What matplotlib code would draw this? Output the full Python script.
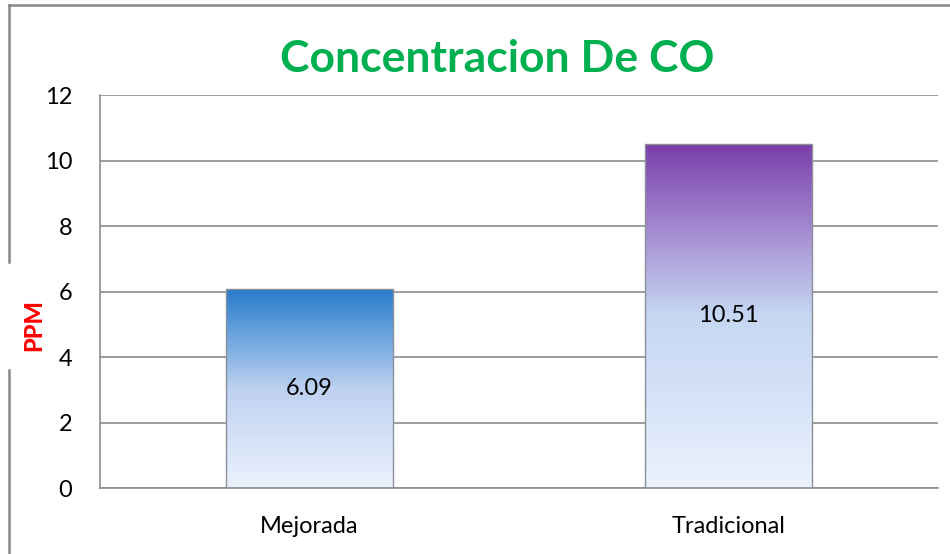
"""Bar chart: Concentracion De CO (PPM) for two stove types."""

import numpy as np
import matplotlib
matplotlib.use("Agg")
import matplotlib.pyplot as plt
from matplotlib.colors import LinearSegmentedColormap
from matplotlib.lines import Line2D

categories = ["Mejorada", "Tradicional"]
values = [6.09, 10.51]
y_ticks = [0, 2, 4, 6, 8, 10, 12]

# gradient stops (bottom -> top) per bar
bar_gradients = [
    ["#EBF2FD", "#D5E2F8", "#BDD1F1", "#6FA6DE", "#2A7BCB"],
    ["#ECF2FD", "#D6E3F8", "#C6D7F3", "#A58BD0", "#7A3DAA"],
]

plt.rcParams["font.family"] = ["Lato", "DejaVu Sans"]

fig = plt.figure(figsize=(9.5, 5.54), dpi=100)
ax = fig.add_axes([0.1053, 0.1191, 0.8821, 0.7094])

x = np.arange(len(categories))
bars = ax.bar(x, values, width=0.4, color="none", edgecolor="#8A8F99",
              linewidth=1.0, zorder=3)

# fill each bar with a vertical gradient, clipped to the bar
for bar, stops in zip(bars, bar_gradients):
    cmap = LinearSegmentedColormap.from_list("g", stops)
    grad = np.linspace(0, 1, 256).reshape(-1, 1)
    x0, w, h = bar.get_x(), bar.get_width(), bar.get_height()
    im = ax.imshow(grad, cmap=cmap, aspect="auto", origin="lower",
                   extent=[x0, x0 + w, 0, h], zorder=2)
    im.set_clip_path(bar)

for xi, v in zip(x, values):
    ax.text(xi, v / 2, f"{v:.2f}", ha="center", va="center",
            fontsize=17, color="black", zorder=4)

ax.set_xlim(-0.5, 1.5)
ax.set_ylim(0, 12)
ax.set_yticks(y_ticks)
ax.set_xticks(x)
ax.set_xticklabels(categories)
ax.tick_params(axis="both", length=0, labelsize=17, colors="black")
ax.tick_params(axis="x", pad=20)
ax.tick_params(axis="y", pad=20)
ax.yaxis.grid(True, color="#8C8C8C", linewidth=1.2, zorder=0)
ax.set_axisbelow(True)
for side in ["top", "right"]:
    ax.spines[side].set_visible(False)
for side in ["left", "bottom"]:
    ax.spines[side].set_color("#8C8C8C")
    ax.spines[side].set_linewidth(1.2)

fig.text(0.523, 0.893, "Concentracion De CO", ha="center", va="center",
         fontsize=32, fontweight="bold", color="#00B050")
fig.text(0.036, 0.414, "PPM", ha="center", va="center", rotation=90,
         fontsize=17, fontweight="black", color="#FF0000")

# outer chart frame (top edge and broken left edge)
frame_kw = dict(color="#878787", linewidth=1.8, transform=fig.transFigure)
fig.add_artist(Line2D([0.009, 1.0], [0.991, 0.991], **frame_kw))
fig.add_artist(Line2D([0.009, 0.009], [0.991, 0.527], **frame_kw))
fig.add_artist(Line2D([0.009, 0.009], [0.332, 0.0], **frame_kw))

fig.savefig("out.png", dpi=100)
